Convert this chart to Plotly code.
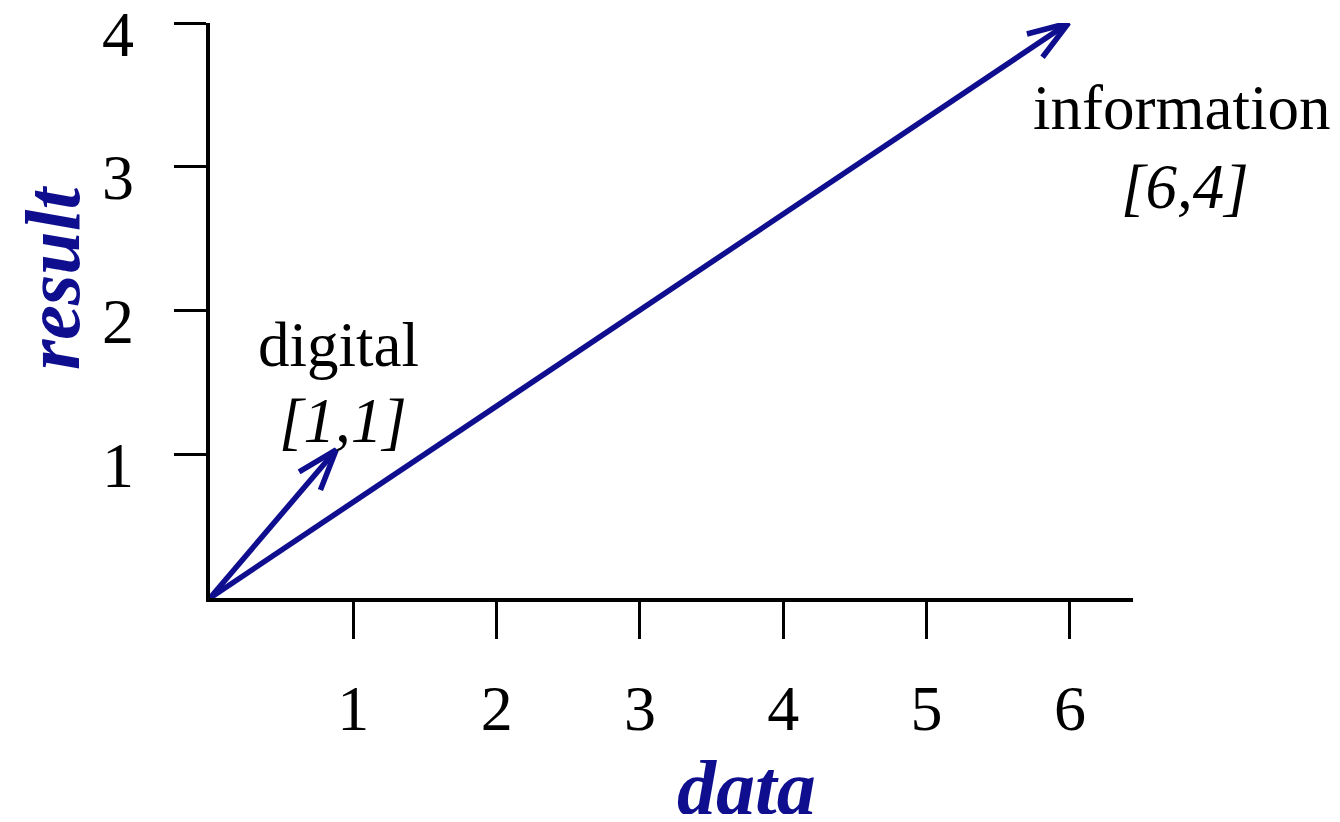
import numpy as np
import plotly.graph_objects as go

# ---- data ----
vector_names = ["digital", "information"]
vector_labels = ["[1,1]", "[6,4]"]
tip_x = [0.88, 5.99]
tip_y = [1.03, 4.0]
x_tick_vals = [1, 2, 3, 4, 5, 6]
y_tick_vals = [1, 2, 3, 4]
y_tick_text = ["1", "2", "3", "4"]
x_title = "data"
y_title = "result"

# ---- layout constants (page has an 8px body margin) ----
OFF = 8
W, H = 1340 - 2 * OFF, 822 - 2 * OFF
PL, PT, PW, PH = 210, 23, 923, 575          # plot area in page pixels
ML, MT = PL - OFF, PT - OFF
MR = W - ML - PW
MB = H - MT - PH
XR = [0, 6.44]
YR = [0, 4]
BLUE = "#0e0e8e"
FONT = "Liberation Serif"
TICK_SIZE = 64

sx = PW / (XR[1] - XR[0])
sy = PH / (YR[1] - YR[0])


def px2paper(px, py):
    return (px - PL) / PW, (PT + PH - py) / PH


fig = go.Figure()

head_len = 43.0
head_ang = np.deg2rad(19)
for tx, ty in zip(tip_x, tip_y):
    dx, dy = tx * sx, ty * sy
    n = np.hypot(dx, dy)
    ux, uy = -dx / n, -dy / n
    bx, by = [], []
    for a in (head_ang, -head_ang):
        rx = ux * np.cos(a) - uy * np.sin(a)
        ry = ux * np.sin(a) + uy * np.cos(a)
        bx.append(tx + head_len * rx / sx)
        by.append(ty + head_len * ry / sy)
    fig.add_trace(go.Scatter(
        x=[0, tx, None, bx[0], tx, bx[1]],
        y=[0, ty, None, by[0], ty, by[1]],
        mode="lines", line=dict(color=BLUE, width=5.5),
        cliponaxis=False, hoverinfo="skip", showlegend=False))

# label centres in page pixels (layout only)
name_px = [(338, 345), (1181, 108)]
coord_px = [(343, 421), (1185, 187)]

annotations = []
for name, lab, npx, cpx in zip(vector_names, vector_labels, name_px, coord_px):
    ax_, ay_ = px2paper(*npx)
    annotations.append(dict(text=name, xref="paper", yref="paper", x=ax_, y=ay_,
                            xanchor="center", yanchor="middle", showarrow=False,
                            font=dict(family=FONT, size=63, color="black")))
    ax_, ay_ = px2paper(*cpx)
    annotations.append(dict(text="<i>%s</i>" % lab, xref="paper", yref="paper",
                            x=ax_, y=ay_, xanchor="center", yanchor="middle",
                            showarrow=False,
                            font=dict(family=FONT, size=63, color="black")))

# y tick labels sit slightly below their ticks in the reference
ylab_x, _ = px2paper(117.5, 0)
for v, t in zip(y_tick_vals, y_tick_text):
    annotations.append(dict(text=t, xref="paper", yref="y", x=ylab_x, y=v,
                            yshift=-11, xanchor="center", yanchor="middle",
                            showarrow=False,
                            font=dict(family=FONT, size=TICK_SIZE, color="black")))

tx_, ty_ = px2paper(746, 787)
annotations.append(dict(text="<b><i>%s</i></b>" % x_title, xref="paper", yref="paper",
                        x=tx_, y=ty_, xanchor="center", yanchor="middle",
                        showarrow=False, font=dict(family=FONT, size=78, color=BLUE)))
tx_, ty_ = px2paper(52, 278)
annotations.append(dict(text="<b><i>%s</i></b>" % y_title, xref="paper", yref="paper",
                        x=tx_, y=ty_, textangle=-90, xanchor="center",
                        yanchor="middle", showarrow=False,
                        font=dict(family=FONT, size=78, color=BLUE)))

fig.update_layout(
    width=W, height=H,
    margin=dict(l=ML, r=MR, t=MT, b=MB, autoexpand=False),
    paper_bgcolor="white", plot_bgcolor="white",
    xaxis=dict(range=XR, showgrid=False, zeroline=False, automargin=False,
               showline=True, linecolor="black", linewidth=3.5,
               ticks="outside", ticklen=37, tickwidth=3.2, tickcolor="black",
               tickvals=x_tick_vals, ticklabelstandoff=14,
               ticklabeloverflow="allow",
               tickfont=dict(family=FONT, size=TICK_SIZE, color="black")),
    yaxis=dict(range=YR, showgrid=False, zeroline=False, automargin=False,
               showline=True, linecolor="black", linewidth=3.5,
               ticks="outside", ticklen=32, tickwidth=3.2, tickcolor="black",
               tickvals=y_tick_vals, showticklabels=False),
    annotations=annotations,
)

fig.write_html("out.html")
